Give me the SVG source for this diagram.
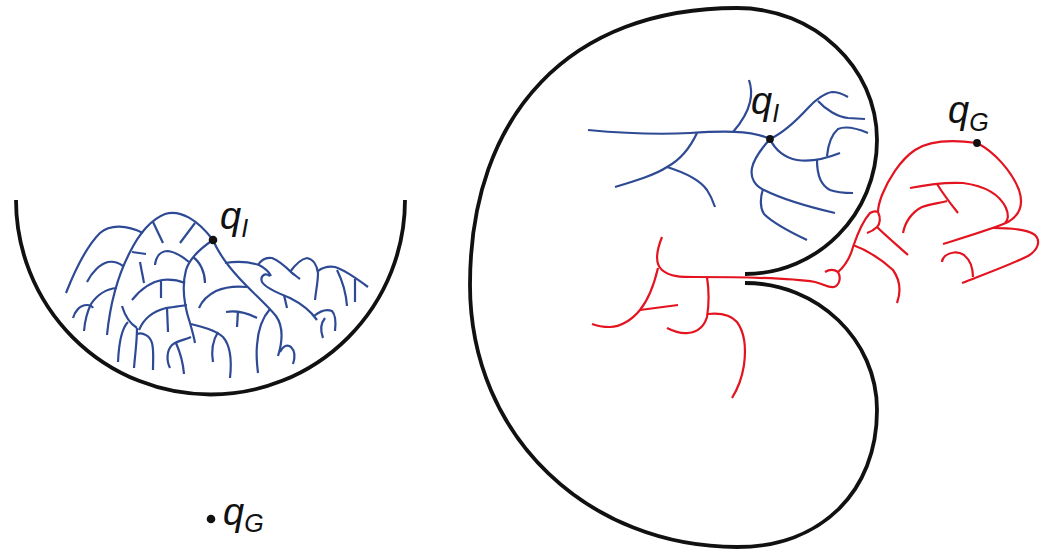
<svg xmlns="http://www.w3.org/2000/svg" width="1048" height="552" viewBox="0 0 1048 552">
  <style>
    .wall { fill: none; stroke: #111; stroke-width: 3.8; stroke-linecap: butt; }
    .blue path { fill: none; stroke: #2e4a94; stroke-width: 2.2; stroke-linecap: butt; }
    .red path { fill: none; stroke: #e3141f; stroke-width: 2.2; stroke-linecap: butt; }
    .pt { fill: #111; }
    .lbl { font-family: "Liberation Sans", Arial, sans-serif; font-style: italic; fill: #111; }
    .q { font-size: 38px; }
    .sub { font-size: 25px; }
  </style>

  <!-- Left: bowl obstacle with a tree grown from q_I -->
  <g id="bowl">
    <path class="wall" d="M16,200 A194.5,194.5 0 0 0 405,200"/>
  </g>

  <g id="tree-left" class="blue">
    <path d="M107,335 C110,305 118,275 130,252 C138,236 150,220 165,214 C180,209 198,220 213,240"/>
    <path d="M66,293 C75,270 88,245 100,233 C110,224 127,225 143,233"/>
    <path d="M153,222 L163,243"/>
    <path d="M195,223 L180,243"/>
    <path d="M132,252 L146,254"/>
    <path d="M87,282 C92,272 100,264 108,262 C114,261 119,263 123,266"/>
    <path d="M117,288 C106,289 97,295 91,304 C87,312 85,320 84,331"/>
    <path d="M73,318 C75,311 80,305 87,305 C90,305 92,306 93,308"/>
    <path d="M213,240 C201,248 190,257 186,270 C182,285 184,305 190,323 C192,330 194,337 195,343"/>
    <path d="M193,257 C200,262 205,272 205,283"/>
    <path d="M155,265 C156,256 161,251 168,251 C176,252 183,257 189,262"/>
    <path d="M140,262 L144,283"/>
    <path d="M132,300 C140,290 150,282 162,280 C172,279 180,281 185,283"/>
    <path d="M161,280 L161,298"/>
    <path d="M139,330 C144,318 154,311 166,308 C174,307 180,306 187,305"/>
    <path d="M122,306 C125,316 129,323 137,328"/>
    <path d="M137,328 C137,342 135,355 134,368"/>
    <path d="M167,308 L168,332"/>
    <path d="M128,322 C122,328 119,340 118,362"/>
    <path d="M137,334 C143,332 150,336 152,343 C154,350 153,360 153,370"/>
    <path d="M170,368 C166,360 167,350 172,345 C178,340 185,340 191,337"/>
    <path d="M176,343 C180,352 183,362 184,374"/>
    <path d="M191,324 C203,327 215,330 223,337 C230,345 232,360 230,378"/>
    <path d="M218,332 C213,340 211,350 213,362"/>
    <path d="M213,240 C218,252 226,264 240,279 C252,292 266,304 276,316 C283,326 283,340 278,356"/>
    <path d="M225,263 C237,261 250,262 259,265 C265,268 269,272 271,276"/>
    <path d="M270,276 C264,272 260,277 262,282 C266,288 278,293 290,298 C300,303 310,310 317,320"/>
    <path d="M284,295 L287,308"/>
    <path d="M314,316 C320,311 327,309 332,311 C336,315 336,322 335,331"/>
    <path d="M325,318 C321,323 320,330 323,338"/>
    <path d="M258,265 C261,260 266,257 272,258 C280,261 287,268 292,273 C295,275 297,277 300,279"/>
    <path d="M290,272 C295,265 301,259 307,258 C313,259 317,265 318,273 C318,282 316,290 315,300"/>
    <path d="M318,271 C322,268 328,266 335,267 C345,270 356,278 368,287"/>
    <path d="M355,279 L355,302"/>
    <path d="M337,270 C342,280 346,292 347,306"/>
    <path d="M270,309 C262,318 258,330 257,345 C256,355 257,365 258,373"/>
    <path d="M247,287 C237,286 225,287 216,291 C208,295 202,301 199,308"/>
    <path d="M257,318 C247,313 237,310 226,312"/>
    <path d="M238,311 L237,327"/>
    <path d="M280,352 C283,346 287,344 291,347 C295,351 295,358 293,364"/>
  </g>

  <g id="qI-left">
    <circle class="pt" cx="213" cy="240" r="4.3"/>
    <text class="lbl" x="220" y="229"><tspan class="q">q</tspan><tspan class="sub" dx="0" dy="8">I</tspan></text>
  </g>

  <g id="qG-left">
    <circle class="pt" cx="211" cy="519" r="4.3"/>
    <text class="lbl" x="223" y="525"><tspan class="q">q</tspan><tspan class="sub" dx="0" dy="7">G</tspan></text>
  </g>

  <!-- Right: curled obstacle with a narrow passage, two trees -->
  <g id="shell">
    <path class="wall" d="M745,274 C818,274 877,214 877,140 C877,67 814,8 737,8 C571,8 470,113 470,285 C470,438 590,547 737,547 C821,547 877,492 877,410 C877,340 818,283 745,283"/>
  </g>

  <g id="tree-start" class="blue">
    <path d="M588,130 C620,133 655,135 690,133 C720,131 752,130 770,139"/>
    <path d="M733,132 C740,124 747,115 750,102 C752,94 751,86 749,80"/>
    <path d="M697,133 C690,148 680,160 667,167 C655,175 635,181 615,187"/>
    <path d="M667,167 C683,172 700,180 707,190 C711,196 713,201 715,207"/>
    <path d="M770,139 C785,132 797,120 808,108 C815,100 825,93 832,92 C838,92 843,94 848,97"/>
    <path d="M818,101 C826,110 838,117 848,118 L865,119"/>
    <path d="M770,139 C775,150 785,158 797,160 C810,162 825,159 840,153"/>
    <path d="M827,156 C828,146 831,135 838,129 C845,126 856,128 868,133"/>
    <path d="M817,160 C817,172 820,185 830,190 C838,193 846,193 853,193"/>
    <path d="M770,139 C762,148 754,158 752,168 C750,178 755,186 764,190 C780,198 805,206 835,213"/>
    <path d="M763,189 C760,198 760,208 764,214 C772,222 790,232 807,240"/>
  </g>

  <g id="tree-goal" class="red">
    <path d="M662,237 C656,252 655,264 662,270 C670,277 682,277 695,277 C740,277 790,278 815,282 C824,284 828,288 834,287 C840,285 841,277 838,272"/>
    <path d="M825,272 C830,269 835,270 838,272 C845,266 850,258 853,247 C857,235 862,222 870,213 C873,211 876,211 878,212"/>
    <path d="M977,143 C955,140 930,140 915,150 C900,160 888,180 882,195 C879,203 878,208 878,212"/>
    <path d="M878,212 C881,218 880,224 877,227 C874,230 870,232 867,233"/>
    <path d="M877,227 C885,235 898,246 908,255"/>
    <path d="M853,245 C867,250 882,260 893,270 C900,280 901,292 897,303"/>
    <path d="M910,188 C925,185 945,182 963,183 C985,186 1000,195 1006,208 C1009,215 1008,220 1005,223"/>
    <path d="M937,184 C942,192 950,203 958,213"/>
    <path d="M903,233 C905,222 912,212 922,207 C930,204 940,203 947,201"/>
    <path d="M977,143 C995,152 1012,172 1019,190 C1024,205 1020,215 1008,222 C995,228 975,234 943,244"/>
    <path d="M993,228 C1010,228 1028,230 1035,235 C1041,241 1038,250 1028,256 C1010,265 985,274 962,283"/>
    <path d="M973,277 C973,268 970,260 964,255 C958,251 950,252 945,256 C943,258 942,260 942,262"/>
    <path d="M658,268 C654,285 648,300 640,310 C632,320 620,327 610,327 C602,327 597,326 592,324"/>
    <path d="M640,310 L678,305"/>
    <path d="M707,277 C709,290 709,305 707,317 C704,327 698,332 688,333 C680,334 673,331 667,328"/>
    <path d="M708,314 C718,313 730,314 737,322 C745,333 746,350 744,365 C742,378 737,390 732,398"/>
  </g>

  <g id="qI-right">
    <circle class="pt" cx="770" cy="139" r="3.9"/>
    <text class="lbl" x="751" y="114"><tspan class="q">q</tspan><tspan class="sub" dx="0" dy="8">I</tspan></text>
  </g>

  <g id="qG-right">
    <circle class="pt" cx="977" cy="143" r="3.9"/>
    <text class="lbl" x="948" y="123"><tspan class="q">q</tspan><tspan class="sub" dx="0" dy="8">G</tspan></text>
  </g>
</svg>
